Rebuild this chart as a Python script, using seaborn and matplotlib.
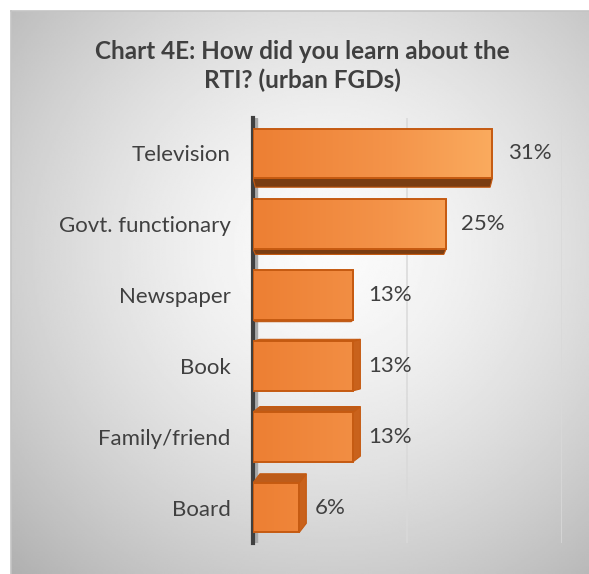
import numpy as np
import pandas as pd
import matplotlib
matplotlib.use("Agg")
import matplotlib.pyplot as plt
from matplotlib.patches import Polygon
from matplotlib.colors import LinearSegmentedColormap
import seaborn as sns

# datos
fuentes = ["Television", "Govt. functionary", "Newspaper", "Book", "Family/friend", "Board"]
porcentajes = [31, 25, 13, 13, 13, 6]
etiquetas = ["31%", "25%", "13%", "13%", "13%", "6%"]

df = pd.DataFrame({"fuente": fuentes, "pct": porcentajes})

sns.set_theme(style="white")
plt.rcParams["font.family"] = ["Lato", "DejaVu Sans"]

fig = plt.figure(figsize=(5.89, 5.74), dpi=100)
fig.patch.set_facecolor("white")

# fondo gris con degradado radial (estilo Excel)
bg = fig.add_axes([11 / 589, 0, 1 - 11 / 589, 1 - 11 / 574], zorder=0)
gx, gy = np.meshgrid(np.linspace(-1, 1, 300), np.linspace(-1, 1, 300))
r = np.sqrt(((gx - 0.1) / 1.1) ** 2 + ((gy + 0.15) / 1.1) ** 2)
shade = np.clip(0.985 - 0.17 * r ** 1.5, 0, 1)
bg.imshow(shade, cmap="gray", vmin=0, vmax=1, aspect="auto", extent=[0, 1, 0, 1])
bg.set_xlim(0, 1)
bg.set_ylim(0, 1)
bg.set_xticks([])
bg.set_yticks([])
for lado in ["right", "bottom"]:
    bg.spines[lado].set_visible(False)
for lado in ["left", "top"]:
    bg.spines[lado].set_color("#c4c4c4")
    bg.spines[lado].set_linewidth(1.2)

ax = fig.add_axes([253 / 589, 31 / 574, (562 - 253) / 589, (543 - 118) / 574], zorder=1)
ax.patch.set_alpha(0)

sns.barplot(data=df, x="pct", y="fuente", orient="h", color="#f08a3c",
            edgecolor="#c55a11", linewidth=1.4, width=0.7, ax=ax, zorder=3)

ax.set_xlim(0, 40)
ax.set_ylim(5.5, -0.5)

# degradado dentro de cada barra
naranja = LinearSegmentedColormap.from_list("nar", ["#ed7f33", "#f4944a", "#fdb466"])
grad = np.linspace(0, 1, 256).reshape(1, -1)
for p in ax.patches:
    x0, y0, w, h = p.get_x(), p.get_y(), p.get_width(), p.get_height()
    im = ax.imshow(grad, cmap=naranja, aspect="auto", extent=[0, 36, y0 + h, y0],
                   zorder=3.5, interpolation="bicubic")
    im.set_clip_path(p)
    p.set_zorder(4)
    p.set_facecolor("none")

# cara de profundidad 3D
paso = 1 / 70.8
for i, p in enumerate(ax.patches):
    x0, y0, w, h = p.get_x(), p.get_y(), p.get_width(), p.get_height()
    prof = (2.5 - i) * 3.6 * paso
    if prof > 0:
        borde = y0 + h
        cara = [(x0, borde), (x0 + w, borde), (x0 + w - 0.3, borde + prof),
                (x0 + 0.3, borde + prof)]
        col = "#7a3d12"
    else:
        borde = y0
        cara = [(x0, borde), (x0 + w, borde), (x0 + w + 0.9, borde + prof),
                (x0 + 0.9, borde + prof)]
        col = "#bd5c1a"
        # cara lateral derecha
        lado = [(x0 + w, borde), (x0 + w + 0.9, borde + prof),
                (x0 + w + 0.9, y0 + h + prof), (x0 + w, y0 + h)]
        ax.add_patch(Polygon(lado, closed=True, facecolor="#c9621c", edgecolor="#c55a11",
                             linewidth=0.8, zorder=2.8))
    ax.add_patch(Polygon(cara, closed=True, facecolor=col, edgecolor="#c55a11",
                         linewidth=0.8, zorder=2.8))

# pared izquierda y rejilla
ax.axvspan(0, 0.55, color="#a9a9a9", zorder=1)
for v in [20, 40]:
    ax.axvline(v, color="#d9d9d9", linewidth=1.1, zorder=0.5)

ax.bar_label(ax.containers[0], labels=etiquetas, padding=11, fontsize=16,
             color="#404040")

for lado in ["top", "right", "bottom"]:
    ax.spines[lado].set_visible(False)
ax.spines["left"].set_color("#404040")
ax.spines["left"].set_linewidth(3)
ax.set_xticks([])
ax.set_xlabel("")
ax.set_ylabel("")
ax.tick_params(axis="y", length=0, pad=16, labelsize=16, labelcolor="#404040")

fig.text(0.514, 0.885, "Chart 4E: How did you learn about the\nRTI? (urban FGDs)",
         ha="center", va="center", fontsize=17.5, fontweight="bold", color="#404040",
         linespacing=1.25)

fig.savefig("out.png", dpi=100)
